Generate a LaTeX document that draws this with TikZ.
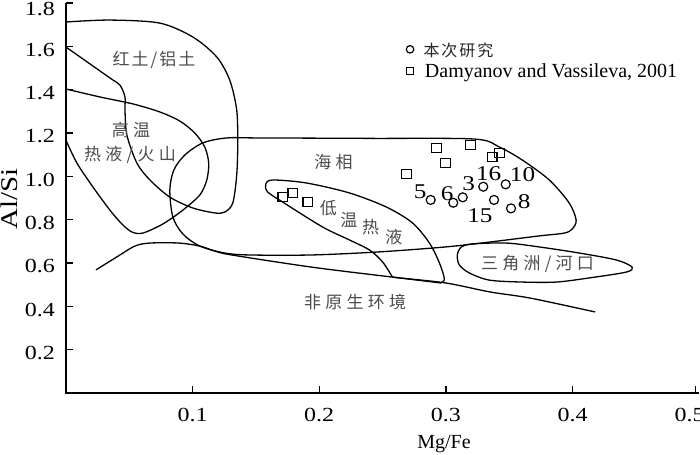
\documentclass[tikz,border=0pt]{standalone}
\usepackage{fontspec}
\setmainfont{Liberation Serif}
\newfontfamily\chiffres[FakeStretch=1.2]{Liberation Serif}
\newfontfamily\cjk[LetterSpace=25]{Noto Sans CJK SC}
\newfontfamily\cjkleg[LetterSpace=12]{Noto Sans CJK SC}

\begin{document}
\begin{tikzpicture}[x=1267pt, y=216.7pt]
 \tikzstyle{zone}=[line width=1.3pt, line join=round]
 \tikzstyle{axe}=[line width=1.5pt]
 \tikzstyle{grad}=[line width=1.3pt]
 \tikzstyle{xlab}=[anchor=base, yshift=-28.7pt, inner sep=0pt, font=\chiffres\fontsize{20}{20}\selectfont]
 \tikzstyle{ylab}=[anchor=base east, xshift=-10.8pt, yshift=-10pt, inner sep=0pt, font=\chiffres\fontsize{20}{20}\selectfont]
 \tikzstyle{etiq}=[inner sep=0pt, text=black!70, font=\cjk\fontsize{17}{17}\selectfont]
 \tikzstyle{num}=[inner sep=0pt, font=\chiffres\fontsize{21}{21}\selectfont]
 \tikzstyle{rond}=[circle, draw, line width=1.2pt, inner sep=0pt, minimum size=9pt]
 \tikzstyle{carre}=[rectangle, draw, line width=1.2pt, inner sep=0pt, minimum size=9.5pt]
 \useasboundingbox (-0.05193,-0.2815) rectangle (0.50055,1.8136);
 %
 \coordinate (O) at (0,0);
 \coordinate (Xmax) at (0.5,0);
 \coordinate (Ymax) at (0,1.8);
 \draw[axe] (Ymax)--(O)--(Xmax);
 \draw[grad] (0.1,0)--(0.1,0.032); \node[xlab] (x1) at (0.1,0) {0.1};
 \draw[grad] (0.2,0)--(0.2,0.032); \node[xlab] (x2) at (0.2,0) {0.2};
 \draw[grad] (0.3,0)--(0.3,0.032); \node[xlab] (x3) at (0.3,0) {0.3};
 \draw[grad] (0.4,0)--(0.4,0.032); \node[xlab] (x4) at (0.4,0) {0.4};
 \draw[grad] (0.497,0)--(0.497,0.032); \node[xlab, xshift=-6pt] (x5) at (0.497,0) {0.5};
 \draw[grad] (0,0.2)--(0.0055,0.2); \node[ylab] (y1) at (0,0.2) {0.2};
 \draw[grad] (0,0.4)--(0.0055,0.4); \node[ylab] (y2) at (0,0.4) {0.4};
 \draw[grad] (0,0.6)--(0.0055,0.6); \node[ylab] (y3) at (0,0.6) {0.6};
 \draw[grad] (0,0.8)--(0.0055,0.8); \node[ylab] (y4) at (0,0.8) {0.8};
 \draw[grad] (0,1.0)--(0.0055,1.0); \node[ylab] (y5) at (0,1.0) {1.0};
 \draw[grad] (0,1.2)--(0.0055,1.2); \node[ylab] (y6) at (0,1.2) {1.2};
 \draw[grad] (0,1.4)--(0.0055,1.4); \node[ylab] (y7) at (0,1.4) {1.4};
 \draw[grad] (0,1.6)--(0.0055,1.6); \node[ylab] (y8) at (0,1.6) {1.6};
 \draw[grad] (0,1.8)--(0.0055,1.8); \node[ylab, yshift=-2.5pt] (y9) at (0,1.8) {1.8};
 \node[inner sep=0pt, rotate=90, font=\chiffres\fontsize{24}{24}\selectfont] (AlSi) at (-0.0444,0.895) {Al/Si};
 \node[anchor=base, inner sep=0pt, font=\fontsize{20}{20}\selectfont] (MgFe) at (0.2985,-0.258) {Mg/Fe};
 %% fields
 \draw[zone] plot[smooth] coordinates {(0,1.712) (0.0348,1.721) (0.0742,1.707) (0.1002,1.643) (0.1191,1.551) (0.1294,1.444) (0.1349,1.306) (0.1357,1.154) (0.1349,1.006) (0.1318,0.877) (0.1255,0.835) (0.1176,0.831) (0.1002,0.854) (0.0821,0.904) (0.0664,0.983) (0.0561,1.061) (0.0482,1.191) (0.0467,1.306) (0.0467,1.366) (0.0427,1.421) (0.0348,1.454) (0,1.597)};
 \draw[zone] plot[smooth] coordinates {(0,1.403) (0.027,1.366) (0.053,1.334) (0.0742,1.297) (0.09,1.255) (0.1018,1.200) (0.1097,1.135) (0.1128,1.061) (0.1113,0.983) (0.1058,0.914) (0.0924,0.844) (0.0766,0.780) (0.0608,0.738) (0.0522,0.743) (0.0443,0.780) (0.0348,0.844) (0.0214,0.951) (0.0088,1.061) (0,1.168)} -- cycle;
 \draw[zone] plot[smooth cycle] coordinates {(0.127,1.177) (0.153,1.177) (0.24,1.175) (0.3225,1.172) (0.3422,1.135) (0.3603,1.075) (0.3816,0.983) (0.3973,0.877) (0.4028,0.798) (0.3997,0.757) (0.3934,0.738) (0.3737,0.725) (0.3351,0.697) (0.2996,0.674) (0.2468,0.651) (0.194,0.637) (0.1452,0.637) (0.1255,0.646) (0.1058,0.678) (0.0924,0.734) (0.0845,0.812) (0.0821,0.937) (0.0853,1.029) (0.0939,1.098) (0.1081,1.154)};
 \draw[zone] plot[smooth] coordinates {(0.2578,0.535) (0.25,0.605) (0.2397,0.66) (0.224,0.706) (0.2027,0.766) (0.1712,0.881) (0.1593,0.928) (0.1578,0.964) (0.1633,0.983) (0.1901,0.969) (0.224,0.923) (0.2531,0.858) (0.2736,0.785) (0.287,0.692) (0.2949,0.60) (0.2988,0.526) (0.2957,0.508)} -- cycle;
 \draw[zone] plot[smooth cycle] coordinates {(0.309,0.637) (0.3122,0.674) (0.3209,0.688) (0.3477,0.692) (0.3737,0.674) (0.4052,0.646) (0.4344,0.614) (0.447,0.581) (0.4423,0.558) (0.4131,0.531) (0.3871,0.512) (0.3603,0.512) (0.3343,0.521) (0.3185,0.554) (0.3106,0.591)};
 \draw[zone] plot[smooth] coordinates {(0.0238,0.568) (0.0403,0.628) (0.0545,0.678) (0.0664,0.692) (0.0892,0.692) (0.1058,0.678) (0.1176,0.655) (0.131,0.637) (0.194,0.581) (0.2578,0.535) (0.2996,0.508) (0.3351,0.466) (0.3666,0.438) (0.4178,0.374)};
 %% field names
 \node[etiq, font=\cjkleg\fontsize{17}{17}\selectfont] (laterite) at (0.0696,1.539) {红土/铝土};
 \node[etiq] (hautT) at (0.0515,1.214) {高温};
 \node[etiq] (volcan) at (0.0507,1.098) {热液/火山};
 \node[etiq] (marin) at (0.2113,1.064) {海相};
 \node[etiq] (bas1) at (0.2072,0.852) {低};
 \node[etiq] (bas2) at (0.2235,0.798) {温};
 \node[etiq] (bas3) at (0.2406,0.767) {热};
 \node[etiq] (bas4) at (0.259,0.721) {液};
 \node[etiq] (delta) at (0.3723,0.595) {三角洲/河口};
 \node[etiq] (nonprim) at (0.2283,0.418) {非原生环境};
 %% Damyanov and Vassileva
 \node[carre] (d1) at (0.1712,0.904) {};
 \node[carre] (d2) at (0.1791,0.923) {};
 \node[carre] (d3) at (0.1909,0.881) {};
 \node[carre] (d4) at (0.2689,1.011) {};
 \node[carre] (d5) at (0.2925,1.131) {};
 \node[carre] (d6) at (0.2996,1.061) {};
 \node[carre] (d7) at (0.3193,1.144) {};
 \node[carre] (d8) at (0.3366,1.089) {};
 \node[carre] (d9) at (0.3422,1.108) {};
 %% this study
 \node[rond] (s5) at (0.288,0.891) {};
 \node[rond] (s6) at (0.3058,0.878) {};
 \node[rond] (s3) at (0.3133,0.903) {};
 \node[rond] (s16) at (0.3295,0.952) {};
 \node[rond] (s10) at (0.3472,0.963) {};
 \node[rond] (s15) at (0.3380,0.891) {};
 \node[rond] (s8) at (0.3514,0.852) {};
 \node[num] (n5) at (0.2796,0.927) {5};
 \node[num] (n6) at (0.301,0.921) {6};
 \node[num] (n3) at (0.318,0.964) {3};
 \node[num] (n16) at (0.3338,1.010) {16};
 \node[num] (n10) at (0.3605,1.010) {10};
 \node[num] (n15) at (0.3269,0.818) {15};
 \node[num] (n8) at (0.3618,0.882) {8};
 %% legend
 \node[rond, minimum size=7.5pt] (lrond) at (0.2717,1.586) {};
 \node[anchor=west, inner sep=0pt, text=black!85, font=\cjkleg\fontsize{16}{16}\selectfont] (lrondtxt) at (0.2822,1.583) {本次研究};
 \node[carre, minimum size=7.5pt] (lcarre) at (0.2717,1.486) {};
 \node[anchor=base west, inner sep=0pt, font=\fontsize{20}{20}\selectfont] (lcarretxt) at (0.2833,1.458) {Damyanov and Vassileva, 2001};
\end{tikzpicture}
\end{document}
